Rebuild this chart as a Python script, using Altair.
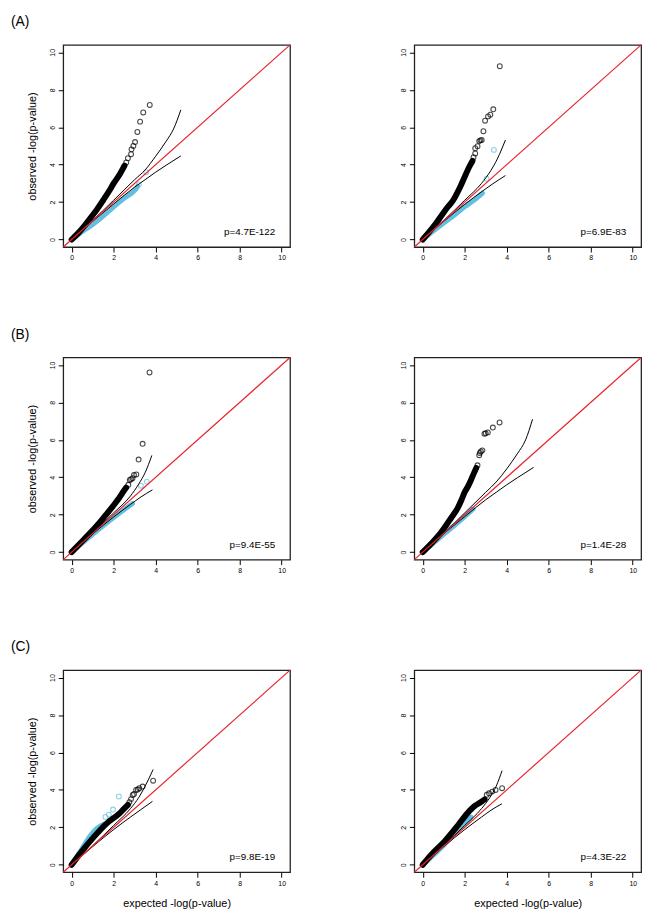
import altair as alt
import pandas as pd

TICKS = [0, 2, 4, 6, 8, 10]
DOMAIN = [-0.4, 10.4]
ROW_TAGS = ["(A)", "(B)", "(C)"]
P_LABELS = ["p=4.7E-122", "p=6.9E-83", "p=9.4E-55", "p=1.4E-28", "p=9.8E-19", "p=4.3E-22"]
REF_LINE = [(-0.4, -0.4), (10.4, 10.4)]

# ---- panel A, left
A_L_BLACK_BODY = [(0, 0), (0.3, 0.33), (0.6, 0.72), (1.0, 1.3), (1.2, 1.6), (1.5, 2.1), (1.8, 2.62), (2.0, 3.0), (2.3, 3.5), (2.52, 3.95)]
A_L_BLACK_TAIL = [(2.6, 4.12), (2.68, 4.35), (2.83, 4.56), (2.85, 4.82), (2.94, 5.0), (3.02, 5.21), (3.13, 5.75), (3.26, 6.3), (3.41, 6.79), (3.72, 7.19)]
A_L_CYAN_BODY = [(0, 0), (0.5, 0.42), (1.0, 0.8), (1.5, 1.25), (2.0, 1.75), (2.5, 2.2), (3.0, 2.62), (3.15, 2.85)]
A_L_CYAN_TAIL = [(3.2, 2.95), (3.55, 3.6)]
A_L_CI_UP = [(0, 0), (1, 1.02), (2, 2.1), (3, 3.2), (3.5, 3.72), (4, 4.45), (4.5, 5.25), (4.85, 5.9), (5.2, 6.93)]
A_L_CI_LO = [(0, 0), (1, 0.97), (2, 1.9), (3, 2.8), (3.5, 3.2), (4, 3.6), (4.5, 3.97), (5.2, 4.47)]

# ---- panel A, right
A_R_BLACK_BODY = [(0, 0), (0.3, 0.4), (0.6, 0.82), (1.0, 1.45), (1.2, 1.75), (1.45, 2.1), (1.6, 2.4), (1.8, 2.85), (2.0, 3.35), (2.2, 3.85), (2.37, 4.2)]
A_R_BLACK_TAIL = [(2.42, 4.4), (2.5, 4.6), (2.5, 4.88), (2.61, 4.99), (2.69, 5.26), (2.75, 5.3), (2.81, 5.32), (2.89, 5.79), (2.97, 6.35), (3.11, 6.58), (3.22, 6.67), (3.36, 6.96), (3.67, 9.26)]
A_R_CYAN_BODY = [(0, 0), (0.5, 0.45), (1.0, 0.88), (1.5, 1.3), (2.0, 1.75), (2.5, 2.15), (2.85, 2.48)]
A_R_CYAN_TAIL = [(3.04, 3.25), (3.39, 4.79)]
A_R_CI_UP = [(0, 0), (1, 1.02), (2, 2.1), (2.8, 3.0), (3.24, 3.68), (3.55, 4.3), (3.94, 5.32)]
A_R_CI_LO = [(0, 0), (1, 0.97), (2, 1.88), (2.8, 2.55), (3.3, 2.95), (3.94, 3.42)]

# ---- panel B, left
B_L_BLACK_BODY = [(0, 0), (0.56, 0.65), (1.19, 1.4), (1.6, 1.95), (1.97, 2.46), (2.2, 2.8), (2.44, 3.2), (2.6, 3.45)]
B_L_BLACK_TAIL = [(2.7, 3.6), (2.77, 3.86), (2.83, 3.9), (2.9, 3.95), (2.97, 4.12), (3.08, 4.15), (3.19, 4.95), (3.38, 5.79), (3.71, 9.6)]
B_L_CYAN_BODY = [(0, 0), (1, 0.95), (2, 1.85), (2.9, 2.6)]
B_L_CYAN_TAIL = [(3.3, 3.55), (3.58, 3.77)]
B_L_CI_UP = [(0, 0), (1, 1.02), (2, 2.1), (2.8, 3.0), (3.2, 3.65), (3.5, 4.25), (3.82, 5.17)]
B_L_CI_LO = [(0, 0), (1, 0.97), (2, 1.88), (2.8, 2.55), (3.3, 2.95), (3.85, 3.33)]

# ---- panel B, right
B_R_BLACK_BODY = [(0, 0), (0.4, 0.45), (0.81, 0.96), (1.36, 1.84), (1.67, 2.37), (1.85, 2.8), (1.98, 3.16), (2.15, 3.5), (2.3, 3.86), (2.45, 4.25), (2.55, 4.5)]
B_R_BLACK_TAIL = [(2.61, 4.64), (2.69, 5.18), (2.72, 5.3), (2.77, 5.38), (2.84, 5.44), (2.94, 6.33), (3.0, 6.35), (3.1, 6.4), (3.34, 6.66), (3.66, 6.93)]
B_R_CYAN_BODY = [(0, 0), (1, 0.95), (2, 1.9), (2.4, 2.3)]
B_R_CYAN_TAIL = []
B_R_CI_UP = [(0, 0), (1, 1.0), (2, 2.1), (3, 3.2), (3.5, 3.75), (4, 4.45), (4.5, 5.25), (4.9, 6.0), (5.23, 7.1)]
B_R_CI_LO = [(0, 0), (1, 0.98), (2, 1.9), (3, 2.8), (3.5, 3.2), (4, 3.6), (4.5, 3.97), (5.28, 4.53)]

# ---- panel C, left
C_L_BLACK_BODY = [(0, 0), (0.4, 0.6), (1.03, 1.45), (1.66, 2.2), (2.28, 2.75), (2.5, 3.0), (2.68, 3.2)]
C_L_BLACK_TAIL = [(2.75, 3.35), (2.83, 3.51), (2.91, 3.73), (2.97, 3.78), (3.07, 4.0), (3.15, 4.02), (3.22, 4.09), (3.38, 4.18), (3.88, 4.49)]
C_L_CYAN_BODY = [(0, 0), (0.2, 0.35), (0.48, 0.84), (0.88, 1.54), (1.2, 1.95), (1.5, 2.16)]
C_L_CYAN_TAIL = [(1.61, 2.56), (1.77, 2.68), (1.97, 2.95), (2.25, 3.65)]
C_L_CI_UP = [(0, 0), (1, 1.02), (2, 2.1), (2.8, 3.0), (3.2, 3.6), (3.5, 4.2), (3.88, 5.09)]
C_L_CI_LO = [(0, 0), (1, 0.97), (2, 1.88), (2.8, 2.55), (3.3, 2.95), (3.85, 3.39)]

# ---- panel C, right
C_R_BLACK_BODY = [(0, 0), (0.42, 0.55), (1.04, 1.25), (1.67, 2.1), (2.14, 2.77), (2.45, 3.12), (2.7, 3.3), (2.95, 3.5)]
C_R_BLACK_TAIL = [(3.05, 3.74), (3.16, 3.82), (3.31, 3.91), (3.47, 4.0), (3.78, 4.09)]
C_R_CYAN_BODY = [(0, 0), (1, 1.05), (1.8, 2.0), (2.3, 2.55)]
C_R_CYAN_TAIL = []
C_R_CI_UP = [(0, 0), (1, 1.02), (2, 2.1), (2.8, 3.0), (3.2, 3.6), (3.5, 4.2), (3.78, 5.03)]
C_R_CI_LO = [(0, 0), (1, 0.97), (2, 1.88), (2.8, 2.55), (3.3, 2.95), (3.77, 3.26)]

CYAN = "#62bfe0"
RED = "#e8252c"
FONT = "Liberation Sans"
W, H = 230, 205


def df(pts):
    return pd.DataFrame(pts if pts else [], columns=["x", "y"])


def panel(bb, bt, cb, ct, up, lo, plab, tag=None, ytitle=False, xtitle=False):
    xe = alt.X("x:Q", scale=alt.Scale(domain=DOMAIN, nice=False, zero=False),
               axis=alt.Axis(values=TICKS, title="expected -log(p-value)" if xtitle else None,
                             labelPadding=2, titlePadding=12))
    ye = alt.Y("y:Q", scale=alt.Scale(domain=DOMAIN, nice=False, zero=False),
               axis=alt.Axis(values=TICKS, title="observed -log(p-value)" if ytitle else None,
                             labelPadding=3, titlePadding=11, labelAngle=270,
                             labelAlign="center", labelBaseline="bottom"))
    layers = [
        alt.Chart(df(cb)).mark_line(color=CYAN, strokeWidth=5, strokeCap="round", interpolate="monotone").encode(x=xe, y=ye),
        alt.Chart(df(ct)).mark_point(shape="circle", filled=False, color=CYAN, size=24, strokeWidth=1.1).encode(x=xe, y=ye),
        alt.Chart(df(bb)).mark_line(color="black", strokeWidth=6, strokeCap="round", interpolate="monotone").encode(x=xe, y=ye),
        alt.Chart(df(bt)).mark_point(shape="circle", filled=False, color="black", size=24, strokeWidth=1.1).encode(x=xe, y=ye),
        alt.Chart(df(up)).mark_line(color="black", strokeWidth=1, interpolate="monotone").encode(x=xe, y=ye),
        alt.Chart(df(lo)).mark_line(color="black", strokeWidth=1, interpolate="monotone").encode(x=xe, y=ye),
        alt.Chart(df(REF_LINE)).mark_line(color=RED, strokeWidth=1.2).encode(x=xe, y=ye),
        alt.Chart(pd.DataFrame({"t": [plab]})).mark_text(align="right", baseline="middle", fontSize=10, font=FONT, color="black")
        .encode(text="t:N", x=alt.value(215), y=alt.value(190)),
    ]
    if tag:
        layers.append(
            alt.Chart(pd.DataFrame({"t": [tag]})).mark_text(align="left", baseline="middle", fontSize=14, font=FONT, color="black")
            .encode(text="t:N", x=alt.value(-53), y=alt.value(-23))
        )
    return alt.layer(*layers).properties(width=W, height=H)


panels = [
    panel(A_L_BLACK_BODY, A_L_BLACK_TAIL, A_L_CYAN_BODY, A_L_CYAN_TAIL, A_L_CI_UP, A_L_CI_LO, P_LABELS[0], ROW_TAGS[0], ytitle=True),
    panel(A_R_BLACK_BODY, A_R_BLACK_TAIL, A_R_CYAN_BODY, A_R_CYAN_TAIL, A_R_CI_UP, A_R_CI_LO, P_LABELS[1]),
    panel(B_L_BLACK_BODY, B_L_BLACK_TAIL, B_L_CYAN_BODY, B_L_CYAN_TAIL, B_L_CI_UP, B_L_CI_LO, P_LABELS[2], ROW_TAGS[1], ytitle=True),
    panel(B_R_BLACK_BODY, B_R_BLACK_TAIL, B_R_CYAN_BODY, B_R_CYAN_TAIL, B_R_CI_UP, B_R_CI_LO, P_LABELS[3]),
    panel(C_L_BLACK_BODY, C_L_BLACK_TAIL, C_L_CYAN_BODY, C_L_CYAN_TAIL, C_L_CI_UP, C_L_CI_LO, P_LABELS[4], ROW_TAGS[2], ytitle=True, xtitle=True),
    panel(C_R_BLACK_BODY, C_R_BLACK_TAIL, C_R_CYAN_BODY, C_R_CYAN_TAIL, C_R_CI_UP, C_R_CI_LO, P_LABELS[5], xtitle=True),
]

chart = (
    alt.concat(*panels, columns=2, spacing={"row": 112, "column": 126}, bounds="flush")
    .properties(padding={"left": 2, "top": 0, "right": 5, "bottom": 5}, background="white")
    .configure_view(stroke="#222", strokeWidth=1.3)
    .configure_axis(domain=False, grid=False, ticks=True, tickSize=5, tickColor="black", tickWidth=1,
                    labelFontSize=7, labelColor="black", labelFont=FONT, labelFlush=False,
                    labelOverlap=False, labelBound=False,
                    titleFont=FONT, titleFontSize=11, titleFontWeight="normal", titleColor="black")
)

chart.save("out.html", embed_options={"renderer": "svg", "actions": False})
